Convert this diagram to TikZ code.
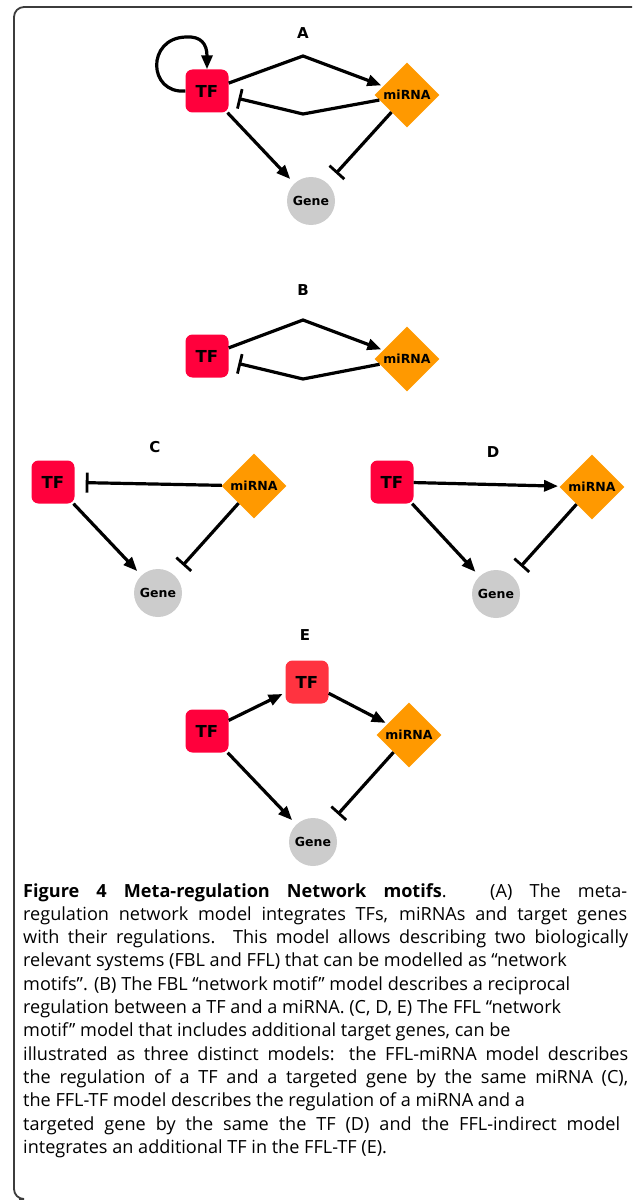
\documentclass[tikz,border=0pt]{standalone}
\usepackage{fontspec}
\setmainfont{Open Sans}
\newfontfamily\nodefont{DejaVu Sans}
\usetikzlibrary{arrows.meta,shapes.geometric}
\definecolor{tfred}{RGB}{255,0,60}
\definecolor{tflight}{RGB}{255,51,64}
\definecolor{mirnaorange}{RGB}{255,153,0}
\definecolor{genegray}{RGB}{204,204,204}
\definecolor{framegray}{RGB}{60,60,60}
\begin{document}
\begin{tikzpicture}[x=1pt,y=-1pt,
  tfbox/.style={rounded corners=7pt, fill=tfred, minimum width=43pt, minimum height=43pt, inner sep=0pt,
    font=\nodefont\bfseries\fontsize{16.5}{18}\selectfont},
  mibox/.style={diamond, fill=mirnaorange, minimum width=65pt, minimum height=65pt, inner sep=0pt,
    font=\nodefont\bfseries\fontsize{12.5}{14}\selectfont},
  genebox/.style={circle, fill=genegray, minimum size=48pt, inner sep=0pt,
    font=\nodefont\bfseries\fontsize{12.5}{14}\selectfont},
  panel/.style={font=\nodefont\bfseries\fontsize{15}{17}\selectfont, inner sep=0pt},
  act/.style={draw=black, line width=3.2pt, -{Triangle[length=14pt,width=11pt]}},
  inh/.style={draw=black, line width=3.2pt, -{Bar[width=20pt,line width=2.8pt]}},
  captext/.style={anchor=base west, inner sep=0pt, font=\fontsize{18.1}{23.3}\selectfont}
]
\useasboundingbox (0,0) rectangle (632,1201);
% frame
\draw[framegray, line width=1.8pt, rounded corners=10pt] (19,1199) -- (14,1199) -- (14,7) -- (632,7);

% ---------- A ----------
\node[panel] (labA) at (303,33) {A};
\node[tfbox] (tfA) at (207,91) {TF};
\node[mibox] (miA) at (407,95) {miRNA};
\node[genebox] (geA) at (311,201) {Gene};
\coordinate (pA1) at (303,56);
\coordinate (pA2) at (303,114);
\draw[act, shorten >=2pt] (tfA) -- (pA1) -- (miA);
\draw[inh, shorten >=10pt] (miA) -- (pA2) -- (tfA);
\draw[act, shorten >=6pt] (tfA) -- (geA);
\draw[inh, shorten >=13pt] (miA) -- (geA);
\draw[act] (tfA.west) .. controls (148,94) and (146,38) .. (186,37) .. controls (201,36) and (207,44) .. (tfA.north);

% ---------- B ----------
\node[panel] (labB) at (303,290) {B};
\node[tfbox] (tfB) at (207,356) {TF};
\node[mibox] (miB) at (407,359) {miRNA};
\coordinate (pB1) at (303,320);
\coordinate (pB2) at (303,379);
\draw[act, shorten >=2pt] (tfB) -- (pB1) -- (miB);
\draw[inh, shorten >=10pt] (miB) -- (pB2) -- (tfB);

% ---------- C ----------
\node[panel] (labC) at (155,447) {C};
\node[tfbox] (tfC) at (53,482) {TF};
\node[mibox] (miC) at (254,486) {miRNA};
\node[genebox] (geC) at (158,593) {Gene};
\draw[inh, shorten >=11pt] (miC) -- (tfC);
\draw[act, shorten >=6pt] (tfC) -- (geC);
\draw[inh, shorten >=13pt] (miC) -- (geC);

% ---------- D ----------
\node[panel] (labD) at (493,452) {D};
\node[tfbox] (tfD) at (392,482) {TF};
\node[mibox] (miD) at (592,487) {miRNA};
\node[genebox] (geD) at (496,594) {Gene};
\draw[act, shorten >=2pt] (tfD) -- (miD);
\draw[act, shorten >=6pt] (tfD) -- (geD);
\draw[inh, shorten >=13pt] (miD) -- (geD);

% ---------- E ----------
\node[panel] (labE) at (305,635) {E};
\node[tfbox] (tfE1) at (207,731) {TF};
\node[tfbox, fill=tflight] (tfE2) at (307,682) {TF};
\node[mibox] (miE) at (409,735) {miRNA};
\node[genebox] (geE) at (313,842) {Gene};
\draw[act, shorten >=3pt] (tfE1) -- (tfE2);
\draw[act, shorten >=2pt] (tfE2) -- (miE);
\draw[act, shorten >=6pt] (tfE1) -- (geE);
\draw[inh, shorten >=13pt] (miE) -- (geE);

% ---------- caption ----------
\node[captext] (c1) at (23,897) {\makebox[604pt][s]{\bfseries Figure 4 Meta-regulation Network motifs\mdseries. (A) The meta-}};
\node[captext] (c2) at (23,920.3) {\makebox[604pt][s]{regulation network model integrates TFs, miRNAs and target genes}};
\node[captext] (c3) at (23,943.6) {\makebox[605pt][s]{with their regulations. This model allows describing two biologically}};
\node[captext] (c4) at (23,966.9) {relevant systems (FBL and FFL) that can be modelled as “network};
\node[captext] (c5) at (23,990.2) {motifs”. (B) The FBL “network motif” model describes a reciprocal};
\node[captext] (c6) at (23,1013.5) {regulation between a TF and a miRNA. (C, D, E) The FFL “network};
\node[captext] (c7) at (23,1036.8) {motif” model that includes additional target genes, can be};
\node[captext] (c8) at (23,1060.1) {\makebox[605pt][s]{illustrated as three distinct models: the FFL-miRNA model describes}};
\node[captext] (c9) at (23,1083.4) {\makebox[605pt][s]{the regulation of a TF and a targeted gene by the same miRNA (C),}};
\node[captext] (c10) at (23,1106.7) {the FFL-TF model describes the regulation of a miRNA and a};
\node[captext] (c11) at (23,1130.0) {\makebox[597pt][s]{targeted gene by the same the TF (D) and the FFL-indirect model}};
\node[captext] (c12) at (23,1153.3) {integrates an additional TF in the FFL-TF (E).};
\end{tikzpicture}
\end{document}
